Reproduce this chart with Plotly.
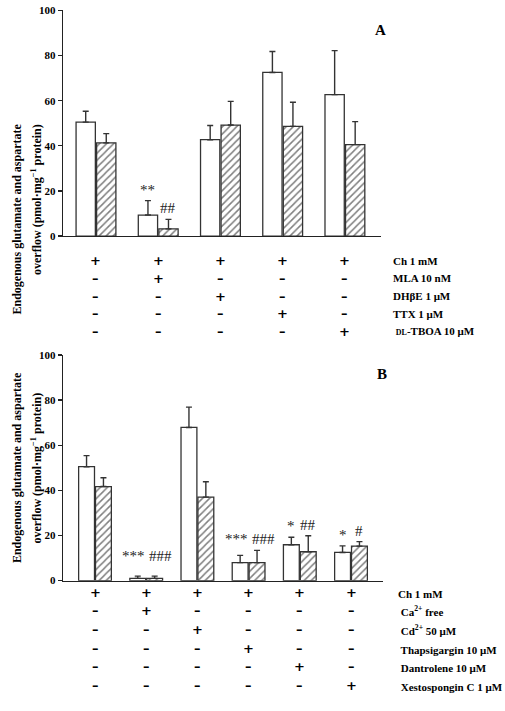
import plotly.graph_objects as go

W, H = 505, 711

# ---------------- data ----------------
groups_A = [0, 1, 2, 3, 4]
white_A = [50.5, 9.3, 42.7, 72.5, 62.7]
white_err_A = [4.8, 6.4, 6.3, 9.3, 19.5]
hatch_A = [41.3, 3.2, 49.2, 48.6, 40.5]
hatch_err_A = [4.1, 4.2, 10.5, 10.7, 10.2]
sig_white_A = ["", "**", "", "", ""]
sig_hatch_A = ["", "##", "", "", ""]

rows_A = ["Ch 1 mM", "MLA 10 nM", "DHβE 1 μM", "TTX 1 μM",
          " <span style='font-size:8px'>DL</span>-TBOA 10 μM"]
signs_A = [
    ["+", "+", "+", "+", "+"],
    ["–", "+", "–", "–", "–"],
    ["–", "–", "+", "–", "–"],
    ["–", "–", "–", "+", "–"],
    ["–", "–", "–", "–", "+"],
]

groups_B = [0, 1, 2, 3, 4, 5]
white_B = [50.5, 1.0, 67.9, 8.0, 15.9, 12.5]
white_err_B = [4.9, 1.0, 9.0, 3.2, 3.3, 2.9]
hatch_B = [41.7, 1.0, 37.0, 8.0, 12.8, 15.3]
hatch_err_B = [3.9, 1.0, 6.8, 5.4, 7.1, 2.0]
sig_white_B = ["", "***", "", "***", "*", "*"]
sig_hatch_B = ["", "###", "", "###", "##", "#"]
sig_joined_B = [False, True, False, True, False, False]

rows_B = ["Ch 1 mM", " Ca<sup>2+</sup> free", " Cd<sup>2+</sup> 50 μM",
          " Thapsigargin 10 μM", " Dantrolene 10 μM", " Xestospongin C 1 μM"]
signs_B = [
    ["+", "+", "+", "+", "+", "+"],
    ["–", "+", "–", "–", "–", "–"],
    ["–", "–", "+", "–", "–", "–"],
    ["–", "–", "–", "+", "–", "–"],
    ["–", "–", "–", "–", "+", "–"],
    ["–", "–", "–", "–", "–", "+"],
]

y_ticks = [0, 20, 40, 60, 80, 100]
y_title_1 = "Endogenous glutamate and aspartate"
y_title_2 = "overflow (pmol·mg<sup>−1</sup> protein)"

# ---------------- style ----------------
SERIF = "Liberation Serif, Times New Roman, serif"
EDGE = "#333333"
BW = 0.31


def px(x):
    return x / W


def py(y):
    return 1 - y / H


fig = go.Figure()


def add_bars(xa, ya, groups, white, werr, hatch, herr):
    fig.add_trace(go.Bar(
        x=groups, y=white, width=BW, offset=-BW - 0.01,
        marker=dict(color="white", line=dict(color=EDGE, width=1.3)),
        error_y=dict(type="data", array=werr, arrayminus=[0] * len(werr),
                     symmetric=False, color=EDGE, thickness=1.4, width=3),
        xaxis=xa, yaxis=ya, showlegend=False, hoverinfo="skip"))
    fig.add_trace(go.Bar(
        x=groups, y=hatch, width=BW, offset=0.01,
        marker=dict(color="white", line=dict(color=EDGE, width=1.3),
                    pattern=dict(shape="/", fgcolor="#000000", bgcolor="white",
                                 size=5, solidity=0.3)),
        error_y=dict(type="data", array=herr, arrayminus=[0] * len(herr),
                     symmetric=False, color=EDGE, thickness=1.4, width=3),
        xaxis=xa, yaxis=ya, showlegend=False, hoverinfo="skip"))


add_bars("x", "y", groups_A, white_A, white_err_A, hatch_A, hatch_err_A)
add_bars("x2", "y2", groups_B, white_B, white_err_B, hatch_B, hatch_err_B)

axis_common = dict(showgrid=False, zeroline=False, showline=True,
                   linecolor="#222222", linewidth=1.3)
yaxis_common = dict(axis_common, range=[0, 100], tickvals=y_ticks,
                    ticks="outside", ticklen=4, tickwidth=1.3, tickcolor="#222222",
                    tickfont=dict(family=SERIF, size=11, color="black", weight="bold"))

fig.update_layout(
    width=W, height=H, margin=dict(l=0, r=0, t=0, b=0),
    paper_bgcolor="white", plot_bgcolor="white", barmode="overlay",
    hovermode=False,
    xaxis=dict(axis_common, domain=[px(63), px(381)], range=[-0.53, 4.58],
               showticklabels=False, ticks="", anchor="y"),
    yaxis=dict(yaxis_common, domain=[py(234), py(4.5)], anchor="x"),
    xaxis2=dict(axis_common, domain=[px(63), px(383)], range=[-0.625, 5.625],
                showticklabels=False, ticks="", anchor="y2"),
    yaxis2=dict(yaxis_common, domain=[py(584.5), py(355)], anchor="x2"),
)

ann = []

# y-axis titles (two lines each)
for yc in (118, 470):
    ann.append(dict(text="<b>" + y_title_1 + "</b>", x=px(8), y=py(yc), xref="paper",
                    yref="paper", textangle=-90, showarrow=False,
                    font=dict(family=SERIF, size=12, color="black")))
    ann.append(dict(text="<b>" + y_title_2 + "</b>", x=px(27), y=py(yc), xref="paper",
                    yref="paper", textangle=-90, showarrow=False,
                    font=dict(family=SERIF, size=12, color="black")))

# panel letters
ann.append(dict(text="<b>A</b>", x=px(388), y=py(14), xref="paper", yref="paper",
                showarrow=False, font=dict(family=SERIF, size=15, color="black")))
ann.append(dict(text="<b>B</b>", x=px(389), y=py(374), xref="paper", yref="paper",
                showarrow=False, font=dict(family=SERIF, size=15, color="black")))

SIGF = dict(family=SERIF, size=15, color="#222222")


def sig_annots(xr, yr, groups, white, werr, hatch, herr, sw, sh, joined=None):
    for i, g in enumerate(groups):
        tw = white[i] + werr[i]
        th = hatch[i] + herr[i]
        if joined and joined[i]:
            top = max(tw, th, 6)
            ann.append(dict(text=sw[i], x=g + 0.02, y=top, xref=xr, yref=yr,
                            xanchor="right", yanchor="bottom", showarrow=False,
                            font=SIGF, yshift=1))
            ann.append(dict(text=sh[i], x=g + 0.02, y=top, xref=xr, yref=yr,
                            xanchor="left", yanchor="bottom", showarrow=False,
                            font=SIGF, yshift=1))
            continue
        if sw[i]:
            ann.append(dict(text=sw[i], x=g - BW / 2 - 0.01, y=tw, xref=xr, yref=yr,
                            yanchor="bottom", showarrow=False, font=SIGF, yshift=1))
        if sh[i]:
            ann.append(dict(text=sh[i], x=g + BW / 2 + 0.01, y=th, xref=xr, yref=yr,
                            yanchor="bottom", showarrow=False, font=SIGF, yshift=1))


sig_annots("x", "y", groups_A, white_A, white_err_A, hatch_A, hatch_err_A,
           sig_white_A, sig_hatch_A)
sig_annots("x2", "y2", groups_B, white_B, white_err_B, hatch_B, hatch_err_B,
           sig_white_B, sig_hatch_B, sig_joined_B)

# treatment tables
TF = dict(family=SERIF, size=11, color="black")
SF = dict(family="DejaVu Sans, sans-serif", size=13, color="#000000")


def table(xr, groups, rows, signs, row_y, label_x):
    for r, (label, ys) in enumerate(zip(rows, row_y)):
        for g in groups:
            ann.append(dict(text="<b>" + signs[r][g] + "</b>", x=g, y=py(ys),
                            xref=xr, yref="paper", showarrow=False, font=SF))
        ann.append(dict(text="<b>" + label + "</b>", x=px(label_x), y=py(ys),
                        xref="paper", yref="paper", xanchor="left",
                        showarrow=False, font=TF))


table("x", groups_A, rows_A, signs_A, [259, 277, 295, 313, 331], 391)
table("x2", groups_B, rows_B, signs_B, [606, 625, 644, 663, 682, 701], 396)

fig.update_layout(annotations=ann)
fig.write_html("out.html",
               config={"displayModeBar": False, "staticPlot": True},
               post_script="document.body.style.margin='0px';"
                           "document.body.style.overflow='hidden';")
